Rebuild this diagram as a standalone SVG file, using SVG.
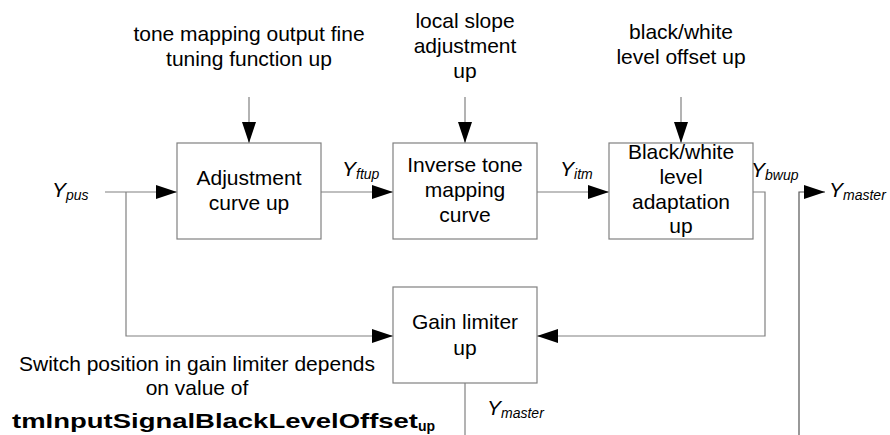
<svg xmlns="http://www.w3.org/2000/svg" width="890" height="435" viewBox="0 0 890 435">
<style>
.box{fill:#fff;stroke:#808080;stroke-width:1.2}
.ln{fill:none;stroke:#808080;stroke-width:1.2}
.t{font-family:"Liberation Sans",Arial,sans-serif;font-size:21px;fill:#000;text-anchor:middle}
.v{font-family:"Liberation Sans",Arial,sans-serif;font-size:21px;font-style:italic;fill:#000}
.s{font-size:14px}
</style>
<defs>
<marker id="ah" markerUnits="userSpaceOnUse" markerWidth="22" markerHeight="14" refX="21" refY="7" orient="auto">
<path d="M0,0 L21,7 L0,14 Z" fill="#000"/>
</marker>
</defs>
<rect width="890" height="435" fill="#fff"/>
<g id="connectors">
<path class="ln" d="M105,192 H177" marker-end="url(#ah)"/>
<path class="ln" d="M321,192 H393" marker-end="url(#ah)"/>
<path class="ln" d="M537,192 H609" marker-end="url(#ah)"/>
<path class="ln" d="M249,97 V143" marker-end="url(#ah)"/>
<path class="ln" d="M465,97 V143" marker-end="url(#ah)"/>
<path class="ln" d="M681,97 V143" marker-end="url(#ah)"/>
<path class="ln" d="M126,192 V336 H393" marker-end="url(#ah)"/>
<path class="ln" d="M753,192 H765 V336 H537" marker-end="url(#ah)"/>
<path class="ln" d="M465,383 V435"/>
<path class="ln" style="stroke:#555" d="M799,435 V192 H825" marker-end="url(#ah)"/>
</g>
<g id="adjustment">
<rect class="box" x="177" y="143" width="144" height="96"/>
<text class="t" x="249" y="185">Adjustment</text>
<text class="t" x="249" y="210">curve up</text>
</g>
<g id="inverse">
<rect class="box" x="393" y="143" width="144" height="96"/>
<text class="t" x="465" y="172">Inverse tone</text>
<text class="t" x="465" y="197">mapping</text>
<text class="t" x="465" y="222">curve</text>
</g>
<g id="bwlevel">
<rect class="box" x="609" y="143" width="144" height="96"/>
<text class="t" x="681" y="159">Black/white</text>
<text class="t" x="681" y="184">level</text>
<text class="t" x="681" y="209">adaptation</text>
<text class="t" x="681" y="233">up</text>
</g>
<g id="gain">
<rect class="box" x="393" y="287" width="144" height="96"/>
<text class="t" x="465" y="329">Gain limiter</text>
<text class="t" x="465" y="355">up</text>
</g>
<g id="labels">
<text class="t" x="249" y="41">tone mapping output fine</text>
<text class="t" x="249" y="66">tuning function up</text>
<text class="t" x="465" y="28">local slope</text>
<text class="t" x="465" y="53">adjustment</text>
<text class="t" x="465" y="78">up</text>
<text class="t" x="681" y="39">black/white</text>
<text class="t" x="681" y="64">level offset up</text>
<text class="v" x="52" y="197">Y<tspan class="s" dy="3">pus</tspan></text>
<text class="v" x="342" y="176">Y<tspan class="s" dy="3">ftup</tspan></text>
<text class="v" x="560" y="176">Y<tspan class="s" dy="3">itm</tspan></text>
<text class="v" x="751" y="177">Y<tspan class="s" dy="3">bwup</tspan></text>
<text class="v" x="829" y="197">Y<tspan class="s" dy="3">master</tspan></text>
<text class="v" x="487" y="415">Y<tspan class="s" dy="3">master</tspan></text>
<text class="t" x="197" y="371">Switch position in gain limiter depends</text>
<text class="t" x="197" y="395">on value of</text>
<text x="12" y="428" style="font-family:'Liberation Sans',Arial,sans-serif;font-size:21px;font-weight:bold"><tspan textLength="406" lengthAdjust="spacingAndGlyphs">tmInputSignalBlackLevelOffset</tspan><tspan font-size="14" dy="3">up</tspan></text>
</g>
</svg>
